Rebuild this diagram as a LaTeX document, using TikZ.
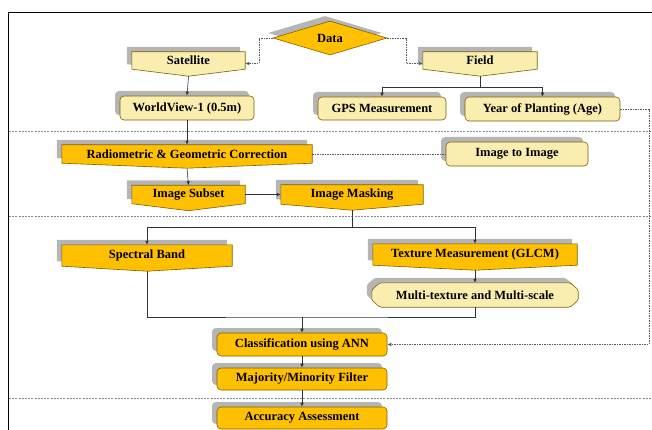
\documentclass[tikz,border=0pt]{standalone}
\usepackage{fontspec}
\setmainfont{Liberation Serif}
\usetikzlibrary{shapes.geometric,shadows,backgrounds,arrows.meta,calc}
\definecolor{gold}{HTML}{FFC000}
\definecolor{pale}{HTML}{FAEDB0}
\definecolor{edge}{HTML}{7F6000}
\definecolor{shade}{HTML}{B5B5B5}
\tikzset{
 lbl/.style={font=\bfseries\fontsize{12.5}{14}\selectfont, inner sep=0pt, text=black},
 shd/.style={general shadow={fill=shade, shadow xshift=-5pt, shadow yshift=5pt}},
 goldfill/.style={fill=gold, draw=edge, line width=0.6pt, shd},
 palefill/.style={fill=pale, draw=edge, line width=0.6pt, shd},
 rbox/.style={lbl, rectangle, rounded corners=4pt},
 pbox/.style={lbl, rectangle},
 conn/.style={draw=black!80, line width=0.6pt},
 arr/.style={-{Latex[length=4pt,width=3.5pt]}},
 dconn/.style={draw=black!65, line width=0.6pt, dash pattern=on 1.5pt off 1pt},
 sepline/.style={draw=black!45, line width=0.7pt, dash pattern=on 2pt off 1.2pt},
}
\newcommand\penta[3]{%
 \begin{scope}[on background layer]
 \path[#2] (#1.north west) -- (#1.north east) -- (#1.south east) -- ([yshift=-#3pt]#1.south) -- (#1.south west) -- cycle;
 \end{scope}
 \coordinate (#1-tip) at ([yshift=-#3pt]#1.south);}
\newcommand\octa[2]{%
 \begin{scope}[on background layer]
 \path[#2, rounded corners=1.5pt] ([xshift=8pt]#1.north west) -- ([xshift=-8pt]#1.north east) -- ([yshift=-7pt]#1.north east) -- ([yshift=7pt]#1.south east) -- ([xshift=-8pt]#1.south east) -- ([xshift=8pt]#1.south west) -- ([yshift=7pt]#1.south west) -- ([yshift=-7pt]#1.north west) -- cycle;
 \end{scope}}
\begin{document}
\begin{tikzpicture}[x=1pt,y=-1pt]
\useasboundingbox (0,0) rectangle (652,430);
\clip (0,0) rectangle (652,430);
% frame and separators
\draw[line width=0.8pt] (8.5,440) -- (8.5,12) -- (660,12);
\draw[sepline] (9,131) -- (652,131);
\draw[sepline] (9,216) -- (652,216);
\draw[sepline] (9,398) -- (652,398);

% nodes
\node[diamond, goldfill, lbl, minimum width=114pt, minimum height=29pt] (data) at (330,38) {Data};

\node[pbox, minimum width=113pt, minimum height=17pt] (sat) at (188.5,60.5) {Satellite};
\penta{sat}{palefill}{7}
\node[pbox, minimum width=114pt, minimum height=17pt] (field) at (480,60.5) {Field};
\penta{field}{palefill}{7}

\node[rbox, palefill, minimum width=134pt, minimum height=24pt] (wv) at (187,108) {WorldView-1 (0.5m)};
\node[rbox, palefill, minimum width=128pt, minimum height=23pt] (gps) at (382,108.5) {GPS Measurement};
\node[rbox, palefill, minimum width=155pt, minimum height=24pt] (year) at (542.5,109) {Year of Planting (Age)};

\node[pbox, minimum width=250pt, minimum height=18pt] (rad) at (187,154) {Radiometric \& Geometric Correction};
\penta{rad}{goldfill}{5}
\node[rbox, palefill, minimum width=142pt, minimum height=24pt] (i2i) at (517,154) {Image to Image};

\node[pbox, minimum width=113pt, minimum height=18pt] (sub) at (188.5,194.5) {Image Subset};
\penta{sub}{goldfill}{7}
\node[pbox, minimum width=142pt, minimum height=19pt] (mask) at (352,194.5) {Image Masking};
\penta{mask}{goldfill}{6}

\node[pbox, minimum width=170pt, minimum height=21pt] (spec) at (147,255.5) {Spectral Band};
\penta{spec}{goldfill}{5}
\node[pbox, minimum width=204pt, minimum height=21pt] (tex) at (475,254.5) {Texture Measurement (GLCM)};
\penta{tex}{goldfill}{5}
\node[pbox, minimum width=206pt, minimum height=24pt] (multi) at (475,295) {Multi-texture and Multi-scale};
\octa{multi}{palefill}

\node[rbox, goldfill, minimum width=170pt, minimum height=23pt] (cls) at (302,344.5) {Classification using ANN};
\node[rbox, goldfill, minimum width=170pt, minimum height=22pt] (maj) at (302,379) {Majority/Minority Filter};
\node[rbox, goldfill, minimum width=170pt, minimum height=22pt] (acc) at (302,418) {Accuracy Assessment};

% connectors
\draw[dconn, arr] (data.west) -- (259,38) |- ([yshift=-3pt]sat.east);
\draw[dconn, arr] (data.east) -- (406,38) |- ([yshift=-3pt]field.west);
\draw[conn, arr] (sat-tip) -- (wv.north);
\coordinate (fj) at (480,87);
\draw[conn] (field-tip) -- (fj);
\draw[conn, arr] (fj) -| (gps.north);
\draw[conn, arr] (fj) -| (year.north);
\draw[conn, arr] (wv.south) -- (rad.north);
\draw[dconn] (rad.east) -- (i2i.west);
\draw[conn, arr] (rad-tip) -- (sub.north);
\draw[conn, arr] (sub.east) -- (mask.west);
\coordinate (mj) at (352,227);
\draw[conn] (mask-tip) -- (mj);
\draw[conn, arr] (mj) -| (spec.north);
\draw[conn, arr] (mj) -| (tex.north);
\draw[conn, arr] (tex-tip) -- (multi.north);
\coordinate (join) at (302,317);
\draw[conn] (spec-tip) |- (join) -| (multi.south);
\draw[conn, arr] (join) -- (cls.north);
\draw[conn, arr] (cls.south) -- (maj.north);
\draw[conn, arr] (maj.south) -- (acc.north);
\draw[dconn, arr] (year.east) -- (649,109) |- (cls.east);
\end{tikzpicture}
\end{document}
